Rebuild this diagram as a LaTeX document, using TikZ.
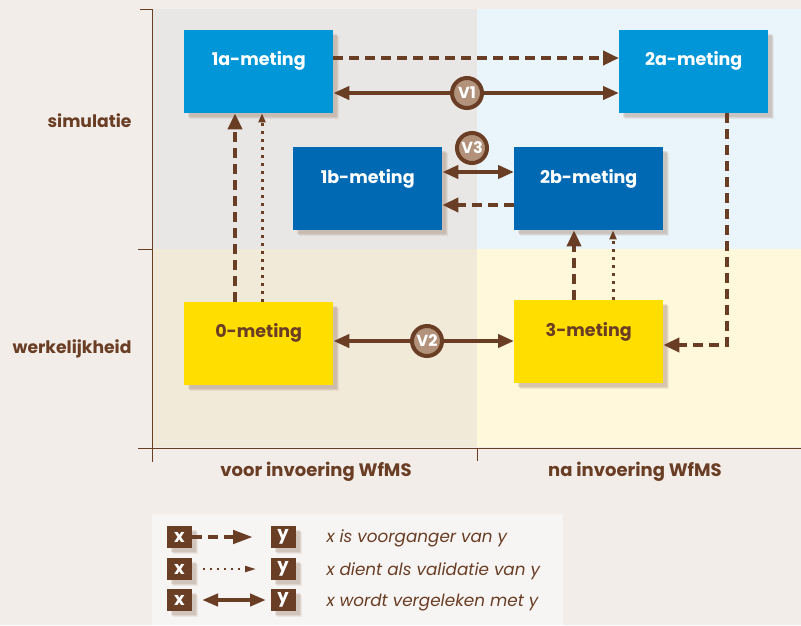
\documentclass[tikz,border=0pt]{standalone}
\usepackage{fontspec}
\setmainfont{Poppins}
\usetikzlibrary{arrows.meta,shadows,calc}
\definecolor{brn}{HTML}{6A3D25}
\definecolor{bgc}{HTML}{F2EDE9}
\definecolor{qtl}{HTML}{E8E7E5}
\definecolor{qtr}{HTML}{EAF5FB}
\definecolor{qbl}{HTML}{F2EAD9}
\definecolor{qbr}{HTML}{FFF8DB}
\definecolor{blueA}{HTML}{0096D7}
\definecolor{blueB}{HTML}{0069B3}
\definecolor{yel}{HTML}{FFDE00}
\definecolor{circf}{HTML}{B3927B}
\definecolor{legbg}{HTML}{F7F5F3}
\definecolor{shad}{HTML}{9C7C68}
\tikzset{
  softshadow/.style={
    general shadow={shadow xshift=6pt,shadow yshift=-6pt,fill=shad,opacity=0.12},
    general shadow={shadow xshift=5pt,shadow yshift=-5pt,fill=shad,opacity=0.15},
    general shadow={shadow xshift=4pt,shadow yshift=-4pt,fill=shad,opacity=0.2}},
  meas/.style={rectangle,minimum width=149pt,minimum height=83pt,inner sep=0pt,anchor=north west,softshadow},
  simbox/.style={meas,fill=blueA},
  sim2box/.style={meas,fill=blueB},
  realbox/.style={meas,fill=yel},
  wlbl/.style={text=white,font=\fontsize{17.5}{20}\selectfont\bfseries},
  blbl/.style={text=brn,font=\fontsize{17.5}{20}\selectfont\bfseries},
  axlbl/.style={text=brn,font=\fontsize{17.2}{20}\selectfont\bfseries},
  axlblb/.style={text=brn,font=\fontsize{18}{20}\selectfont\bfseries},
  dasharr/.style={draw=brn,line width=4.5pt,dash pattern=on 10pt off 6pt,-{Triangle[length=16pt,width=14pt]}},
  dotarr/.style={draw=brn,line width=3pt,dash pattern=on 3pt off 5pt,-{Triangle[length=9pt,width=7pt]}},
  cmparr/.style={draw=brn,line width=4pt,{Triangle[length=16pt,width=13pt]}-{Triangle[length=16pt,width=13pt]}},
  vcirc/.style={circle,draw=brn,line width=4pt,fill=circf,minimum size=30pt,inner sep=0pt,text=white,font=\fontsize{16}{16}\selectfont\bfseries},
  legsq/.style={rectangle,fill=brn,minimum width=25pt,minimum height=22pt,inner sep=0pt,text=white,font=\fontsize{18}{18}\selectfont\bfseries,softshadow},
  legtxt/.style={anchor=west,text=brn,font=\fontsize{16.8}{19}\selectfont\itshape}
}
\begin{document}
\begin{tikzpicture}[x=1pt,y=-1pt]
\useasboundingbox (0,0) rectangle (801,625);
\fill[bgc] (0,0) rectangle (801,625);
% quadrants
\fill[qtl] (153,9) rectangle (477,249);
\fill[qtr] (477,9) rectangle (801,249);
\fill[qbl] (153,249) rectangle (477,447);
\fill[qbr] (477,249) rectangle (801,447);
% axes
\draw[brn,line width=1pt] (140,9) -- (152,9) -- (152,462);
\draw[brn,line width=1pt] (138,249) -- (152,249);
\draw[brn,line width=1pt] (138,448) -- (801,448);
\draw[brn,line width=1pt] (477,448) -- (477,461);
% axis labels
\node[axlbl,anchor=east] (simlbl) at (135,121) {simulatie};
\node[axlbl,anchor=east] (werklbl) at (135,349) {werkelijkheid};
\node[axlblb] (voorlbl) at (316,472) {voor invoering WfMS};
\node[axlblb] (nalbl) at (635,472) {na invoering WfMS};
% boxes
\node[simbox,label={[wlbl,yshift=11pt]center:1a-meting}] (m1a) at (184,30) {};
\node[simbox,label={[wlbl,yshift=11pt]center:2a-meting}] (m2a) at (619,30) {};
\node[sim2box,label={[wlbl,yshift=10pt]center:1b-meting}] (m1b) at (293,147) {};
\node[sim2box,label={[wlbl,yshift=10pt]center:2b-meting}] (m2b) at (514,147) {};
\node[realbox,label={[blbl,yshift=11pt]center:0-meting}] (m0) at (184,302) {};
\node[realbox,label={[blbl,yshift=10pt]center:3-meting}] (m3) at (514,300) {};
% level coordinates
\coordinate (yA) at (0,58);
\coordinate (yB) at (0,93);
\coordinate (yC) at (0,172);
\coordinate (yD) at (0,205);
\coordinate (yE) at (0,341);
\coordinate (yF) at (0,345);
\coordinate (xA) at (235,0);
\coordinate (xB) at (262,0);
\coordinate (xC) at (574,0);
\coordinate (xD) at (613,0);
\coordinate (xE) at (727,0);
\coordinate (bend) at (727,345);
% connectors
\draw[dasharr] (m1a.east |- yA) -- (m2a.west |- yA);
\draw[cmparr] (m1a.east |- yB) -- (m2a.west |- yB);
\node[vcirc] (v1) at (467,93) {V1};
\draw[cmparr] (m1b.east |- yC) -- (m2b.west |- yC);
\node[vcirc] (v3) at (472,148) {V3};
\draw[dasharr] (m2b.west |- yD) -- (m1b.east |- yD);
\draw[dasharr] (xA |- m0.north) -- (xA |- m1a.south);
\draw[dotarr] (xB |- m0.north) -- (xB |- m1a.south);
\draw[dasharr] (xC |- m3.north) -- (xC |- m2b.south);
\draw[dotarr] (xD |- m3.north) -- (xD |- m2b.south);
\draw[dasharr] (xE |- m2a.south) -- (bend) -- (m3.east |- yF);
\draw[cmparr] (m0.east |- yE) -- (m3.west |- yE);
\node[vcirc] (v2) at (427,341) {V2};
% legend
\fill[legbg] (152,514) rectangle (563,625);
\node[legsq] (lx1) at (179.5,537) {x};
\node[legsq] (ly1) at (283,537) {y};
\node[legsq] (lx2) at (179.5,569) {x};
\node[legsq] (ly2) at (283,569) {y};
\node[legsq] (lx3) at (179.5,600) {x};
\node[legsq] (ly3) at (283,600) {y};
\coordinate (le1) at (253,537);
\coordinate (le2) at (256,569);
\coordinate (ls3) at (202,600);
\coordinate (le3) at (266,600);
\draw[draw=brn,line width=4.5pt,dash pattern=on 10pt off 6pt,-{Triangle[length=20pt,width=13pt]}] (lx1.east) -- (le1);
\draw[draw=brn,line width=2pt,dash pattern=on 2pt off 5pt,-{Triangle[length=11pt,width=6pt]}] (203,569) -- (le2);
\draw[draw=brn,line width=4pt,{Triangle[length=16pt,width=12pt]}-{Triangle[length=16pt,width=12pt]}] (ls3) -- (le3);
\node[legtxt] (lt1) at (323,538) {x is voorganger van y};
\node[legtxt] (lt2) at (323,571) {x dient als validatie van y};
\node[legtxt] (lt3) at (323,603) {x wordt vergeleken met y};
\end{tikzpicture}
\end{document}
